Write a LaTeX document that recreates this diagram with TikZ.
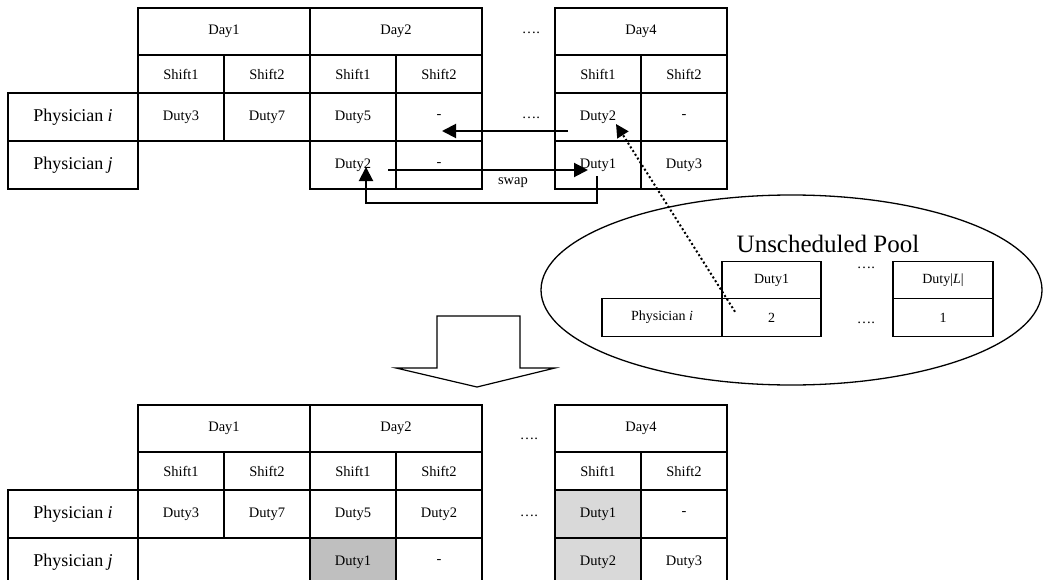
\documentclass[tikz,border=0pt]{standalone}
\usepackage{fontspec}
\setmainfont{Liberation Serif}
\usepackage{xcolor}
\usepackage{tikz}
\usetikzlibrary{positioning, calc, shapes.geometric, arrows.meta}
\definecolor{swapgray}{gray}{0.75}
\definecolor{keptgray}{gray}{0.85}

\tikzset{
  cell/.style={rectangle, draw=black, line width=1.2pt, inner sep=0pt, outer sep=0pt, minimum width=86pt, minimum height=48pt, font=\fontsize{14.5}{17}\selectfont},
  dayhead/.style={cell, minimum width=172pt, minimum height=47pt},
  shifthead/.style={cell, minimum height=38pt},
  physbox/.style={cell, minimum width=130pt, font=\fontsize{18}{21}\selectfont},
  poolcell/.style={cell, minimum width=99pt, minimum height=37.5pt, font=\fontsize{14}{16}\selectfont},
  gap/.style={inner sep=1pt, font=\fontsize{14.5}{17}\selectfont},
  movearrow/.style={-{Triangle[length=14pt,width=14pt]}, line width=2pt},
  pickarrow/.style={-{Triangle[length=13pt,width=13pt]}, line width=2pt, dash pattern=on 2pt off 2.4pt},
}

\begin{document}
\begin{tikzpicture}[x=1pt, y=-1pt]
\useasboundingbox (0,0) rectangle (1056,580);
\clip (0,0) rectangle (1056,580);

% schedule before the move
\node (day1) [dayhead] at (224,31.5) {Day1};
\node (day2) [dayhead, right=0pt of day1] {Day2};
\node (day4) [dayhead, right=73pt of day2] {Day4};
\node (sh11) [shifthead, below right=0pt of day1.south west] {Shift1};
\node (sh12) [shifthead, right=0pt of sh11] {Shift2};
\node (sh21) [shifthead, below right=0pt of day2.south west] {Shift1};
\node (sh22) [shifthead, right=0pt of sh21] {Shift2};
\node (sh41) [shifthead, below right=0pt of day4.south west] {Shift1};
\node (sh42) [shifthead, right=0pt of sh41] {Shift2};
\node (di11) [cell, below=0pt of sh11] {Duty3};
\node (di12) [cell, below=0pt of sh12] {Duty7};
\node (di21) [cell, below=0pt of sh21] {Duty5};
\node (di22) [cell, below=0pt of sh22] {-};
\node (di41) [cell, below=0pt of sh41] {Duty2};
\node (di42) [cell, below=0pt of sh42] {-};
\node (dj21) [cell, below=0pt of di21] {Duty2};
\node (dj22) [cell, below=0pt of di22] {-};
\node (dj41) [cell, below=0pt of di41] {Duty1};
\node (dj42) [cell, below=0pt of di42] {Duty3};
\node (phi) [physbox, left=0pt of di11] {Physician \textit{i}};
\node (phj) [physbox, below=0pt of phi] {Physician \textit{j}};
\node (hdots) [gap] at (531,33) {\dots.};
\node (idots) [gap] at (531,118) {\dots.};

% swap between physician i and j
\coordinate (fromi) at ($(di41.north west)+(13,38)$);
\coordinate (toi) at ($(di22.north west)+(46,38)$);
\coordinate (fromj) at ($(dj21.north west)+(78,29)$);
\coordinate (toj) at ($(dj41.north west)+(33,29)$);
\coordinate (backj) at ($(dj41.north west)+(42,35)$);
\coordinate (backi) at ($(dj21.north west)+(56,26)$);
\draw[movearrow] (fromi) -- (toi);
\draw[movearrow] (fromj) -- (toj);
\draw[movearrow] (backj) -- ++(0,27) -| (backi);
\node (swaplbl) [gap] at (513,183) {swap};

% unscheduled pool
\node (pool) [ellipse, draw=black, line width=1.3pt, minimum width=501pt, minimum height=190pt] at (791.5,290) {};
\node (pooltitle) [inner sep=0pt, font=\fontsize{25}{28}\selectfont] at (828,244) {Unscheduled Pool};
\node (pphi) [poolcell, minimum width=120pt] at (662,317.5) {Physician \textit{i}};
\node (pcnt1) [poolcell, right=0pt of pphi] {2};
\node (pduty1) [poolcell, above=0pt of pcnt1] {Duty1};
\node (pcntL) [poolcell, minimum width=100pt, right=72pt of pcnt1] {1};
\node (pdutyL) [poolcell, minimum width=100pt, above=0pt of pcntL] {Duty|\textit{L}|};
\node (pdots1) [gap, inner sep=0pt] at (866,268) {\dots.};
\node (pdots2) [gap] at (866,323) {\dots.};
\coordinate (pickup) at ($(pcnt1.north west)+(13,13)$);
\coordinate (dropin) at ($(di41.north west)+(61,31)$);
\draw[pickarrow] (pickup) -- (dropin);

% block arrow
\draw[line width=1.2pt, line join=miter] (437,316) -- (520,316) -- (520,368) -- (555,368) -- (477,387) -- (396,368) -- (437,368) -- cycle;

% schedule after the move
\node (nday1) [dayhead] at (224,428.5) {Day1};
\node (nday2) [dayhead, right=0pt of nday1] {Day2};
\node (nday4) [dayhead, right=73pt of nday2] {Day4};
\node (nsh11) [shifthead, below right=0pt of nday1.south west] {Shift1};
\node (nsh12) [shifthead, right=0pt of nsh11] {Shift2};
\node (nsh21) [shifthead, below right=0pt of nday2.south west] {Shift1};
\node (nsh22) [shifthead, right=0pt of nsh21] {Shift2};
\node (nsh41) [shifthead, below right=0pt of nday4.south west] {Shift1};
\node (nsh42) [shifthead, right=0pt of nsh41] {Shift2};
\node (ndi11) [cell, below=0pt of nsh11] {Duty3};
\node (ndi12) [cell, below=0pt of nsh12] {Duty7};
\node (ndi21) [cell, below=0pt of nsh21] {Duty5};
\node (ndi22) [cell, below=0pt of nsh22] {Duty2};
\node (ndi41) [cell, fill=keptgray, below=0pt of nsh41] {Duty1};
\node (ndi42) [cell, below=0pt of nsh42] {-};
\node (ndj21) [cell, fill=swapgray, below=0pt of ndi21] {Duty1};
\node (ndj22) [cell, below=0pt of ndi22] {-};
\node (ndj41) [cell, fill=keptgray, below=0pt of ndi41] {Duty2};
\node (ndj42) [cell, below=0pt of ndi42] {Duty3};
\node (nphi) [physbox, left=0pt of ndi11] {Physician \textit{i}};
\node (nphj) [physbox, below=0pt of nphi] {Physician \textit{j}};
\node (nhdots) [gap] at (529,439) {\dots.};
\node (nidots) [gap] at (529,516) {\dots.};
\end{tikzpicture}
\end{document}
